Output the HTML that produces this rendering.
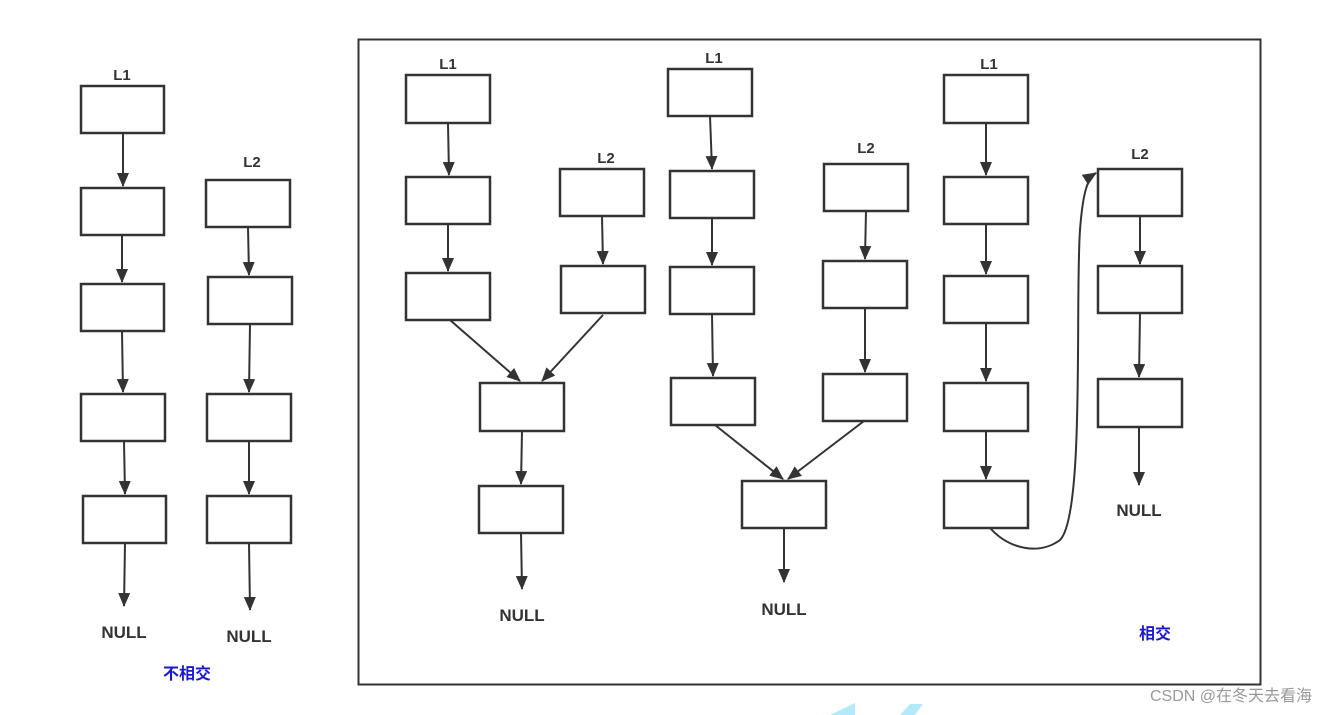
<!DOCTYPE html>
<html><head><meta charset="utf-8"><style>
html,body{margin:0;padding:0;background:#fff;}
svg{display:block}
text{font-family:"Liberation Sans","Noto Sans CJK SC",sans-serif;}
</style></head><body>
<svg width="1328" height="715" viewBox="0 0 1328 715" xmlns="http://www.w3.org/2000/svg">
<defs>
<marker id="a" markerWidth="14" markerHeight="12" refX="13" refY="6" orient="auto" markerUnits="userSpaceOnUse" viewBox="0 0 14 12">
<path d="M0,0 L14,6 L0,12 z" fill="#333"/></marker>
</defs>
<rect x="358.5" y="39.5" width="902" height="645" fill="none" stroke="#333" stroke-width="2"/>
<g fill="#fff" stroke="#333" stroke-width="2.5">
<rect x="81" y="86" width="83" height="47"/>
<rect x="81" y="188" width="83" height="47"/>
<rect x="81" y="284" width="83" height="47"/>
<rect x="81" y="394" width="84" height="47"/>
<rect x="83" y="496" width="83" height="47"/>
<rect x="206" y="180" width="84" height="47"/>
<rect x="208" y="277" width="84" height="47"/>
<rect x="207" y="394" width="84" height="47"/>
<rect x="207" y="496" width="84" height="47"/>
<rect x="406" y="75" width="84" height="48"/>
<rect x="406" y="177" width="84" height="47"/>
<rect x="406" y="273" width="84" height="47"/>
<rect x="560" y="169" width="84" height="47"/>
<rect x="561" y="266" width="84" height="47"/>
<rect x="480" y="383" width="84" height="48"/>
<rect x="479" y="486" width="84" height="47"/>
<rect x="668" y="69" width="84" height="47"/>
<rect x="670" y="171" width="84" height="47"/>
<rect x="670" y="267" width="84" height="47"/>
<rect x="671" y="378" width="84" height="47"/>
<rect x="824" y="164" width="84" height="47"/>
<rect x="823" y="261" width="84" height="47"/>
<rect x="823" y="374" width="84" height="47"/>
<rect x="742" y="481" width="84" height="47"/>
<rect x="944" y="75" width="84" height="48"/>
<rect x="944" y="177" width="84" height="47"/>
<rect x="944" y="276" width="84" height="47"/>
<rect x="944" y="383" width="84" height="48"/>
<rect x="944" y="481" width="84" height="47"/>
<rect x="1098" y="169" width="84" height="47"/>
<rect x="1098" y="266" width="84" height="47"/>
<rect x="1098" y="379" width="84" height="48"/>
</g>
<g stroke="#333" stroke-width="2" fill="none" marker-end="url(#a)">
<line x1="123" y1="133" x2="123" y2="186"/>
<line x1="122" y1="235" x2="122" y2="282"/>
<line x1="122" y1="331" x2="123" y2="392"/>
<line x1="124" y1="441" x2="125" y2="494"/>
<line x1="125" y1="543" x2="124" y2="606"/>
<line x1="248" y1="227" x2="249" y2="275"/>
<line x1="250" y1="324" x2="249" y2="392"/>
<line x1="249" y1="441" x2="249" y2="494"/>
<line x1="249" y1="543" x2="250" y2="610"/>
<line x1="448" y1="123" x2="449" y2="175"/>
<line x1="448" y1="224" x2="448" y2="271"/>
<line x1="602" y1="216" x2="603" y2="264"/>
<line x1="450" y1="320" x2="520" y2="381"/>
<line x1="603" y1="315" x2="542" y2="381"/>
<line x1="522" y1="431" x2="521" y2="484"/>
<line x1="521" y1="533" x2="522" y2="589"/>
<line x1="710" y1="116" x2="712" y2="169"/>
<line x1="712" y1="218" x2="712" y2="265"/>
<line x1="712" y1="314" x2="713" y2="376"/>
<line x1="866" y1="211" x2="865" y2="259"/>
<line x1="865" y1="308" x2="865" y2="372"/>
<line x1="715" y1="425" x2="783" y2="479"/>
<line x1="864" y1="421" x2="788" y2="479"/>
<line x1="784" y1="528" x2="784" y2="582"/>
<line x1="986" y1="123" x2="986" y2="175"/>
<line x1="986" y1="224" x2="986" y2="274"/>
<line x1="986" y1="323" x2="986" y2="381"/>
<line x1="986" y1="431" x2="986" y2="479"/>
<line x1="1140" y1="216" x2="1140" y2="264"/>
<line x1="1140" y1="313" x2="1139" y2="377"/>
<line x1="1139" y1="427" x2="1139" y2="485"/>
<path d="M990,528 C1010,550 1040,555 1060,540 C1085,515 1075,300 1080,230 C1083,190 1088,178 1096,173"/>
</g>
<g font-weight="bold" fill="#333" font-size="15" text-anchor="middle">
<text x="122" y="80">L1</text>
<text x="252" y="167">L2</text>
<text x="448" y="69">L1</text>
<text x="606" y="163">L2</text>
<text x="714" y="63">L1</text>
<text x="866" y="153">L2</text>
<text x="989" y="69">L1</text>
<text x="1140" y="159">L2</text>
<text x="124" y="638" font-size="17">NULL</text>
<text x="249" y="642" font-size="17">NULL</text>
<text x="522" y="621" font-size="17">NULL</text>
<text x="784" y="615" font-size="17">NULL</text>
<text x="1139" y="516" font-size="17">NULL</text>
</g>
<text x="187" y="679" fill="#1a1acc" font-size="16" font-weight="bold" text-anchor="middle">不相交</text>
<text x="1155" y="639" fill="#1a1acc" font-size="16" font-weight="bold" text-anchor="middle">相交</text>
<text x="1312" y="701" fill="#999" font-size="16" text-anchor="end">CSDN @在冬天去看海</text>
<polygon points="830,715 855,703 855,715" fill="#b3e9fb"/>
<polygon points="900,715 910,704 923,704 915,715" fill="#b3e9fb"/>
</svg>
</body></html>
